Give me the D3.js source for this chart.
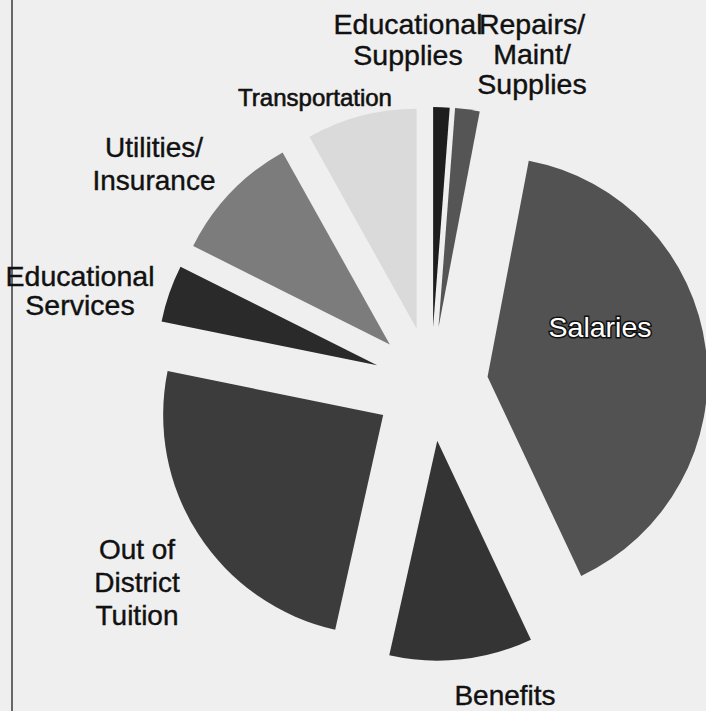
<!DOCTYPE html>
<html>
<head>
<meta charset="utf-8">
<script src="https://cdn.jsdelivr.net/npm/d3@7"></script>
<style>
  body { margin: 0; background: #efefef; }
  svg { display: block; }
</style>
</head>
<body>
<svg id="chart"></svg>
<script>
// budget shares (percent), clockwise from 12 o'clock
const categories = ["Educational Supplies", "Repairs/Maint/Supplies", "Salaries", "Benefits",
                    "Out of District Tuition", "Educational Services", "Utilities/Insurance", "Transportation"];
const shares = [1.2, 1.8, 40.0, 10.5, 24.7, 4.2, 9.5, 8.1];
const labelLines = [["Educational", "Supplies"], ["Repairs/", "Maint/", "Supplies"], ["Salaries"], ["Benefits"],
                    ["Out of", "District", "Tuition"], ["Educational", "Services"], ["Utilities/", "Insurance"], ["Transportation"]];

const [W, H] = [706, 711];
const [cx, cy] = [431, 384];
const R = 220;
const explode = 57;

const fills = ["#1e1e1e", "#555555", "#525252", "#343434", "#3c3c3c", "#2a2a2a", "#7c7c7c", "#dadada"];
// label anchor (middle of first baseline) relative to pie centre, line spacing, font size
const labelAt = [[-23, -350], [101, -350], [169, -47], [74, 321], [-294, 175], [-351, -98], [-277, -227], [-116, -278]];
const lineGap = [31, 30, 0, 0, 33, 29, 33, 0];
const fontSize = [28.5, 28.5, 28.5, 28, 28, 28.5, 28, 24];

const svg = d3.select("#chart").attr("width", W).attr("height", H);

svg.append("rect").attr("width", W).attr("height", H).attr("fill", "#efefef");
svg.append("line")
    .attr("x1", 12).attr("x2", 12).attr("y1", 0).attr("y2", H)
    .attr("stroke", "#3a3a3a").attr("stroke-width", 1.5);

const pie = d3.pie().sort(null).value(d => d);
const arc = d3.arc().innerRadius(0).outerRadius(R);
const arcs = pie(shares);

const g = svg.append("g").attr("transform", `translate(${cx},${cy})`);

g.selectAll("path")
    .data(arcs)
    .join("path")
    .attr("d", arc)
    .attr("fill", (d, i) => fills[i])
    .attr("transform", d => {
        const a = (d.startAngle + d.endAngle) / 2;
        return `translate(${explode * Math.sin(a)},${-explode * Math.cos(a)})`;
    });

const labels = g.selectAll("text")
    .data(arcs)
    .join("text")
    .attr("x", (d, i) => labelAt[i][0])
    .attr("y", (d, i) => labelAt[i][1])
    .attr("text-anchor", "middle")
    .style("font-family", "'Liberation Sans', Arial, sans-serif")
    .style("font-size", (d, i) => fontSize[i] + "px")
    .attr("fill", (d, i) => i === 2 ? "#ffffff" : "#111111")
    .attr("stroke", "#111111")
    .attr("stroke-width", (d, i) => i === 2 ? 3 : (i === 7 ? 0.6 : 0.4))
    .attr("paint-order", "stroke");

labels.selectAll("tspan")
    .data((d, i) => labelLines[i].map((t, k) => ({t, k, i})))
    .join("tspan")
    .attr("x", d => labelAt[d.i][0])
    .attr("dy", d => d.k === 0 ? 0 : lineGap[d.i])
    .text(d => d.t);
</script>
</body>
</html>
